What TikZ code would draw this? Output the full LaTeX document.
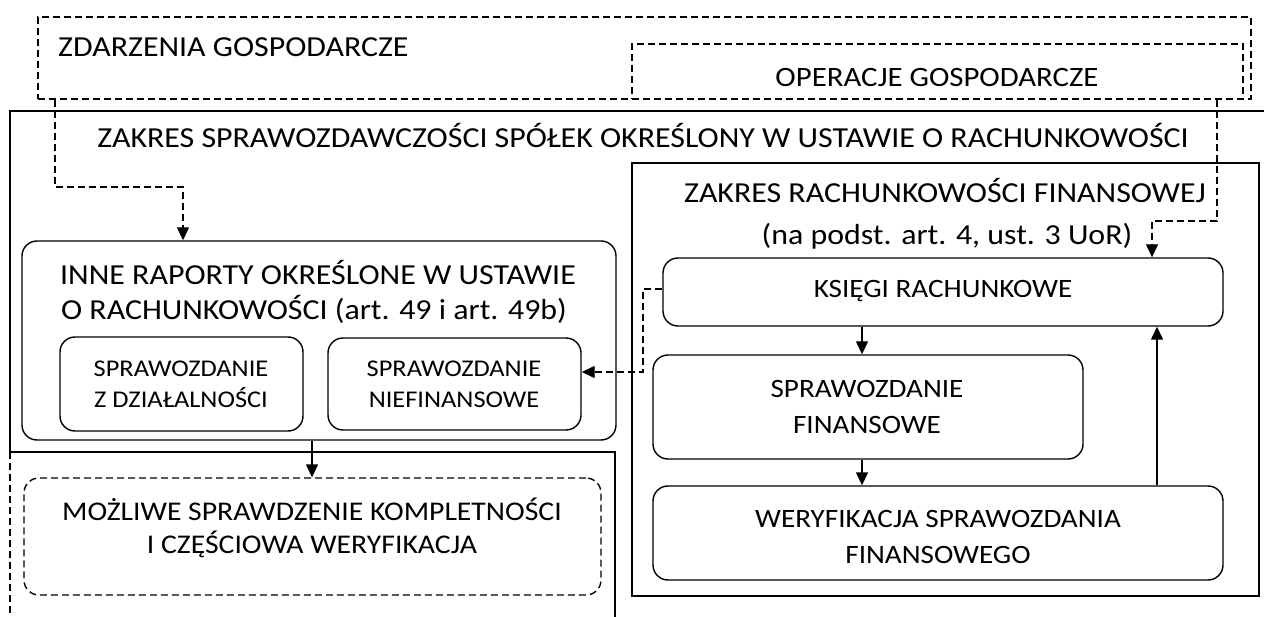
\documentclass[tikz,border=0pt]{standalone}
\usepackage{fontspec}
\setmainfont{Carlito}[FakeStretch=1.1]
\usetikzlibrary{arrows.meta,fit}
\begin{document}
\begin{tikzpicture}[x=1pt,y=-1pt,
  ln/.style={line width=1.4pt},
  dsh/.style={line width=1.4pt, dash pattern=on 7pt off 4pt},
  box/.style={draw, line width=1.4pt, inner sep=0pt, fill=white},
  rbox/.style={box, rounded corners=15pt},
  dbox/.style={draw, line width=1.4pt, inner sep=0pt, dash pattern=on 7pt off 4pt},
  arr/.style={line width=1.4pt, -{Triangle[length=13pt,width=12pt]}},
  darr/.style={arr, dash pattern=on 7pt off 4pt},
  big/.style={anchor=base, inner sep=0pt, font=\fontsize{29}{35}\selectfont},
  mid/.style={anchor=base, inner sep=0pt, font=\fontsize{26.5}{32}\selectfont},
  sml/.style={anchor=base, inner sep=0pt, font=\fontsize{24}{29}\selectfont}]
\useasboundingbox (0,0) rectangle (1264,617);

% outer dashed frames
\node[dbox, fit={(38,17) (1251,99)}] (zdarz) {};
\node[dbox, fit={(632,44) (1243,99)}] (oper) {};
\node[big, anchor=base west] (tzdarz) at (58,57) {ZDARZENIA GOSPODARCZE};
\node[mid, font=\fontsize{28}{34}\selectfont] (toper) at (937,87) {OPERACJE GOSPODARCZE};

% scope of reporting (outer solid frame)
\coordinate (zakresNW) at (10,111);
\draw[ln] (10,452) -- (zakresNW) -- (1270,111);
\node[big] (tzakres) at (643,148) {ZAKRES SPRAWOZDAWCZOŚCI SPÓŁEK OKREŚLONY W USTAWIE O RACHUNKOWOŚCI};

% lower-left frame
\coordinate (lowNW) at (10,452);
\coordinate (lowNE) at (615,452);
\draw[ln] (lowNW) -- (lowNE) -- (615,625);
\draw[dsh] (lowNW) -- (10,625);

% right frame: financial accounting
\node[box, fit={(632,163) (1259,596)}] (rfin) {};
\node[big] (trfin1) at (945,203) {ZAKRES RACHUNKOWOŚCI FINANSOWEJ};
\node[big] (trfin2) at (947,245) {(na podst. art. 4, ust. 3 UoR)};

\node[rbox, fit={(663,258) (1223,326)}] (ksiegi) {};
\node[mid] (tksiegi) at (943,298) {KSIĘGI RACHUNKOWE};

\node[rbox, fit={(653,355) (1083,459)}] (sf) {};
\node[mid] (tsf1) at (867,398) {SPRAWOZDANIE};
\node[mid] (tsf2) at (867,434) {FINANSOWE};

\node[rbox, fit={(653,486) (1223,580)}] (wer) {};
\node[mid] (twer1) at (938,527) {WERYFIKACJA SPRAWOZDANIA};
\node[mid] (twer2) at (938,563) {FINANSOWEGO};

% other reports
\node[rbox, fit={(22,241) (616,440)}] (inne) {};
\node[big] (tinne1) at (318,285) {INNE RAPORTY OKREŚLONE W USTAWIE};
\node[big] (tinne2) at (314,320) {O RACHUNKOWOŚCI (art. 49 i art. 49b)};

\node[rbox, fit={(60,337) (303,431)}] (dzial) {};
\node[sml] (tdzial1) at (181,377) {SPRAWOZDANIE};
\node[sml] (tdzial2) at (181,408) {Z DZIAŁALNOŚCI};

\node[rbox, fit={(328,338) (581,430)}] (niefin) {};
\node[sml] (tniefin1) at (454,377) {SPRAWOZDANIE};
\node[sml] (tniefin2) at (454,408) {NIEFINANSOWE};

% possible check
\node[dbox, rounded corners=15pt, fit={(24,478) (601,595)}] (mozl) {};
\node[big, font=\fontsize{27}{33}\selectfont] (tmozl1) at (312,520) {MOŻLIWE SPRAWDZENIE KOMPLETNOŚCI};
\node[big, font=\fontsize{27}{33}\selectfont] (tmozl2) at (312,553) {I CZĘŚCIOWA WERYFIKACJA};

% connectors
\draw[darr] (zdarz.south -| 55,0) -- (55,187) -- (183,187) -- (inne.north -| 183,0);
\draw[darr] (oper.south -| 1217,0) -- (1217,221) -- (1152,221) -- (ksiegi.north -| 1152,0);
\draw[darr] (ksiegi.west |- 0,289) -- (643,289) -- (643,372) -- (niefin.east |- 0,372);
\draw[arr] (ksiegi.south -| 862,0) -- (sf.north -| 862,0);
\draw[arr] (sf.south -| 862,0) -- (wer.north -| 862,0);
\draw[arr] (wer.north -| 1157,0) -- (ksiegi.south -| 1157,0);
\draw[arr] (inne.south -| 312,0) -- (mozl.north -| 312,0);
\end{tikzpicture}
\end{document}
